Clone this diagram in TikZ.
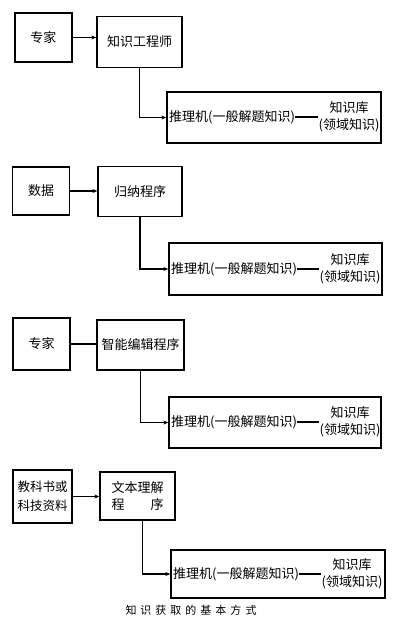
\documentclass[tikz,border=0pt]{standalone}
\usepackage{fontspec}
\setmainfont{Noto Sans CJK SC}
\usetikzlibrary{arrows.meta}
\begin{document}
\begin{tikzpicture}[x=1pt,y=-1pt,
  box/.style={draw, line width=1.3pt, inner sep=0pt, align=center, font=\fontsize{13}{17}\selectfont},
  conn/.style={line width=1.3pt},
  arr/.style={conn, -{Stealth[length=5pt,width=4pt]}},
  inf/.style={font=\fontsize{13}{14}\selectfont, inner sep=0pt, anchor=west},
  kbs/.style={font=\fontsize{13}{17}\selectfont, align=center, inner sep=0pt},
  captext/.style={font=\fontsize{11}{12}\selectfont, inner sep=0pt}]
\useasboundingbox (0,0) rectangle (400,629);

% ---------- group 1 ----------
\node[box, minimum width=57, minimum height=49] (a1) at (43.5,37.5) {专家};
\node[box, minimum width=85, minimum height=51] (b1) at (139.5,42) {知识工程师};
\node[box, minimum width=214, minimum height=51] (g1) at (274,117.5) {};
\node[inf] (i1) at (169,117) {推理机(一般解题知识)};
\node[kbs] (k1) at (349,117) {知识库\\(领域知识)};
\draw[arr] (a1.east) -- (a1.east -| b1.west);
\draw[arr] (b1.south) |- (g1.west);
\draw[conn] (i1.east) -- (k1.west);

% ---------- group 2 ----------
\node[box, minimum width=57, minimum height=48] (a2) at (41,191) {数据};
\node[box, minimum width=84, minimum height=50] (b2) at (140,191.5) {归纳程序};
\node[box, minimum width=213, minimum height=52] (g2) at (275.5,269) {};
\node[inf] (i2) at (171,269) {推理机(一般解题知识)};
\node[kbs] (k2) at (350,269) {知识库\\(领域知识)};
\draw[arr] (a2.east) -- (a2.east -| b2.west);
\draw[arr] (b2.south) |- (g2.west);
\draw[conn] (i2.east) -- (k2.west);

% ---------- group 3 ----------
\node[box, minimum width=57, minimum height=52] (a3) at (41.5,344) {专家};
\node[box, minimum width=87, minimum height=50] (b3) at (140.5,345) {智能编辑程序};
\node[box, minimum width=212, minimum height=51] (g3) at (275,422.5) {};
\node[inf] (i3) at (171,422) {推理机(一般解题知识)};
\node[kbs] (k3) at (350,422) {知识库\\(领域知识)};
\draw[conn] (a3.east) -- (a3.east -| b3.west);
\draw[arr] (b3.south) |- (g3.west);
\draw[conn] (i3.east) -- (k3.west);

% ---------- group 4 ----------
\node[box, minimum width=59, minimum height=53, font=\fontsize{12.5}{19}\selectfont] (a4) at (42.5,496.5) {教科书或\\科技资料};
\node[box, minimum width=75, minimum height=48] (b4) at (137.5,496) {文本理解\\\makebox[52pt]{程\hfill 序}};
\node[box, minimum width=214, minimum height=48] (g4) at (278,574) {};
\node[inf] (i4) at (173,574) {推理机(一般解题知识)};
\node[kbs] (k4) at (352,574) {知识库\\(领域知识)};
\draw[arr] (a4.east) -- (a4.east -| b4.west);
\draw[arr] ([xshift=5pt]b4.south) |- (g4.west);
\draw[conn] (i4.east) -- (k4.west);

% caption
\node[captext] (c) at (191,610) {知\hspace{4pt}识\hspace{4pt}获\hspace{4pt}取\hspace{4pt}的\hspace{4pt}基\hspace{4pt}本\hspace{4pt}方\hspace{4pt}式};
\end{tikzpicture}
\end{document}
